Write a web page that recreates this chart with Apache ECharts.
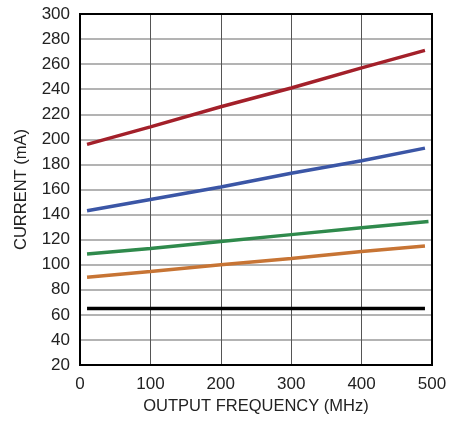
<!DOCTYPE html>
<html><head><meta charset="utf-8">
<script src="https://cdn.jsdelivr.net/npm/echarts@6/dist/echarts.min.js"></script>
<style>html,body{margin:0;padding:0;background:#fff}#c{width:462px;height:421px}</style>
</head><body><div id="c"></div>
<script>
const freq = [10, 100, 200, 300, 400, 490];
const red = [196, 210, 226, 241, 257, 271];
const blue = [143, 152, 162, 173, 183, 193];
const green = [108.5, 113, 118.5, 124, 129.5, 134.5];
const orange = [90, 94.5, 100, 105, 110.5, 115];
const black = [65, 65, 65, 65, 65, 65];
const seriesList = [
  {name:'red', data: red, color:'#A3202A'},
  {name:'blue', data: blue, color:'#3B56A6'},
  {name:'green', data: green, color:'#2F8A4C', xs:[10,100,200,300,400,495]},
  {name:'orange', data: orange, color:'#C77434'},
  {name:'black', data: black, color:'#000000'}
];
const font = '"Liberation Sans Narrow","Arial Narrow","Liberation Sans",Arial,sans-serif';
const chart = echarts.init(document.getElementById('c'), null, {renderer:'canvas'});
chart.setOption({
  animation:false,
  grid:{left:80, top:14, width:352, height:351, show:false, containLabel:false, outerBoundsMode:'none'},
  xAxis:{type:'value', min:0, max:500, interval:100,
    name:'OUTPUT FREQUENCY (MHz)', nameLocation:'middle', nameGap:30,
    nameTextStyle:{fontFamily:font, fontSize:16.5, color:'#222'},
    axisLine:{show:false}, axisTick:{show:false},
    axisLabel:{fontFamily:font, fontSize:17, color:'#222', margin:11},
    splitLine:{show:true, lineStyle:{color:'#555', width:1}}},
  yAxis:{type:'value', min:20, max:300, interval:20,
    name:'CURRENT (mA)', nameLocation:'middle', nameGap:50, nameRotate:90,
    nameTextStyle:{fontFamily:font, fontSize:16.5, color:'#222'},
    axisLine:{show:false}, axisTick:{show:false},
    axisLabel:{fontFamily:font, fontSize:17, color:'#222', margin:10},
    splitLine:{show:true, lineStyle:{color:'#9a9a9a', width:1.5}}},
  series: seriesList.map(s => ({
    type:'line', name:s.name, showSymbol:false, symbol:'none',
    data:(s.xs||freq).map((x,i)=>[x, s.data[i]]),
    lineStyle:{color:s.color, width:3.5}, z:5
  })).concat([{
    type:'line', data:[], markArea:{silent:true, itemStyle:{color:'transparent', borderColor:'#000', borderWidth:2},
      data:[[{coord:[0,20]},{coord:[500,300]}]]}
  }])
});
</script></body></html>
